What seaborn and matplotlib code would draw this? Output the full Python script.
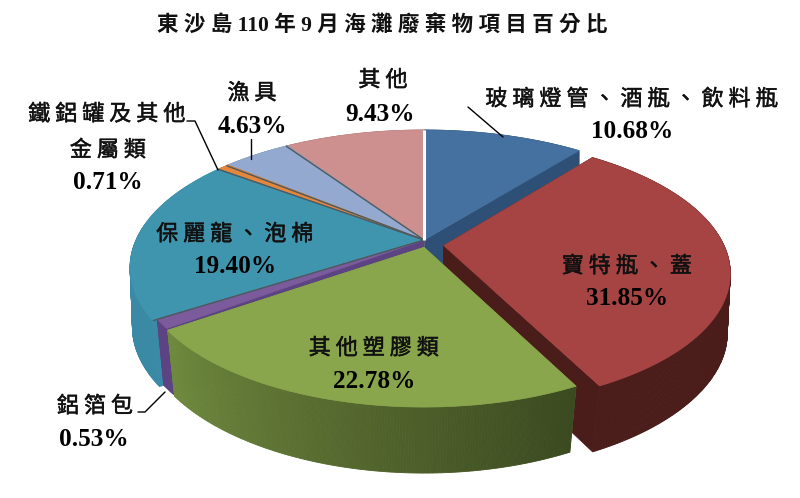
#!/usr/bin/env python3
# coding=utf-8
from matplotlib import pyplot as plt
from matplotlib.patches import Polygon
from matplotlib import patheffects
import seaborn as sns
import numpy as np

# hodnoty (po smeru hodin od 12 hodin)
categories = ["玻璃燈管、酒瓶、飲料瓶", "寶特瓶、蓋", "其他塑膠類", "鋁箔包",
              "保麗龍、泡棉", "鐵鋁罐及其他金屬類", "漁具", "其他"]
percents = [10.68, 31.85, 22.78, 0.53, 19.40, 0.71, 4.63, 9.43]
title = "東 沙 島 110 年 9 月 海 灘 廢 棄 物 項 目 百 分 比"

top_colors = ["#44719f", "#a54442", "#8aa64c", "#7b5b9c",
              "#4095ae", "#e5863a", "#93a9d0", "#ce8f8f"]
wall_colors = ["#2f5076", "#4a1c1a", "#6f8a3e", "#5c4382",
               "#3a8aa5", "#a8601f", "#6e80a0", "#99686a"]

CJK = ["Noto Sans CJK TC", "DejaVu Sans"]
LATIN = ["Liberation Serif", "DejaVu Serif"]

# stred a polomery pohledu na kolac
CX, CY = 424, 240
RX, RY = 288, 132
TILT = 0.2
DEPTH = 66


def project(x, y, depth=0.0):
    w = 1 - TILT * y
    # spodni hrana se smerem dopredu mirne zuzuje
    shrink = 1 - 0.045 * np.maximum(y, 0) if depth else 1.0
    return CX + RX * x / w * shrink, CY + RY * y / w + depth


def rim(start, end, radius=1.0, off=(0.0, 0.0)):
    t = np.radians(np.arange(start, end + 0.5, 0.5))
    return radius * np.sin(t) + off[0], -radius * np.cos(t) + off[1]


def draw_slice(ax, start, end, top, wall, radius=1.0, off=(0.0, 0.0), gradient=None):
    rx, ry = rim(start, end, radius, off)
    tx, ty = project(rx, ry)
    bx, by = project(rx, ry, DEPTH)
    ax0, ay0 = project(off[0], off[1])
    bx0, by0 = project(off[0], off[1], DEPTH)

    # rezy u stredu
    for i in (0, -1):
        ax.add_patch(Polygon([(ax0, ay0), (tx[i], ty[i]), (bx[i], by[i]), (bx0, by0)],
                             fc=wall, ec=wall, lw=0.4))
    # vnejsi stena po kouskach, aby nevznikl zub na okraji
    if gradient is None:
        shades = [wall] * (len(tx) - 1)
    else:
        shades = sns.blend_palette(gradient, len(tx) - 1)
    for i, shade in enumerate(shades):
        ax.add_patch(Polygon([(tx[i], ty[i]), (tx[i + 1], ty[i + 1]),
                              (bx[i + 1], by[i + 1]), (bx[i], by[i])],
                             fc=shade, ec=shade, lw=0.6))
    # vrchni plocha
    outline = np.r_[[[ax0, ay0]], np.c_[tx, ty]]
    ax.add_patch(Polygon(outline, fc=top, ec=top, lw=0.5))


sns.set_theme(style="white")
fig, ax = plt.subplots(figsize=(8.0, 4.98), dpi=100)
fig.subplots_adjust(0, 0, 1, 1)
ax.set_xlim(0, 800)
ax.set_ylim(498, 0)
ax.axis("off")

shares = np.array(percents) / np.sum(percents) * 360
ends = np.cumsum(shares)
starts = ends - shares

# zezadu dopredu, zelena prekryva rez cerveneho dilku
order = [0, 1, 7, 6, 5, 4, 3, 2]
for i in order:
    kwargs = {}
    start = starts[i]
    if i == 1:
        kwargs = {"radius": 0.965, "off": (0.068, 0.042)}
    if i == 2:
        kwargs = {"radius": 0.955, "off": (0.0, 0.055),
                  "gradient": ["#3b4a20", "#55682e", "#6f8a3e"]}
    if i == 3:
        # fialova vyplni mezeru pod posunutym zelenym dilkem
        kwargs = {"radius": 0.985}
        start = start - 2
    draw_slice(ax, start, ends[i], top_colors[i], wall_colors[i], **kwargs)

# tmave cary mezi dilky vlevo nahore
for angle in ends[3:7]:
    ex, ey = project(np.sin(np.radians(angle)), -np.cos(np.radians(angle)))
    ax.plot([CX, ex], [CY, ey], color="#4d5a60", lw=1.0, solid_capstyle="butt")

# bila mezera mezi ruzovym a modrym dilkem
sep_x, sep_y = project(np.sin(np.radians(starts[0])), -np.cos(np.radians(starts[0])))
ax.plot([CX, sep_x], [CY, sep_y], color="white", lw=2.2, solid_capstyle="butt")

# odkazove cary
leaders = [([468, 503], [107, 137]),
           ([251, 251], [139, 159]),
           ([187, 195, 218], [121, 121, 170]),
           ([138, 145, 165], [412, 412, 392])]
for xs, ys in leaders:
    ax.plot(xs, ys, color="black", lw=1.0)

heavier = [patheffects.withStroke(linewidth=0.35, foreground="#111111")]


def label(x, y, text, size=15.9):
    ax.text(x, y + 1.5, " ".join(text), family=CJK, fontsize=size, ha="center", va="center",
            color="#111111", path_effects=heavier)


def pct(x, y, value):
    ax.text(x, y + 1.5, "{:.2f}%".format(value), family=LATIN, fontweight="bold", fontsize=18.2,
            ha="center", va="center", color="black")


ax.text(382, 25, title, family=LATIN + CJK[:1], fontsize=15.5, fontweight="bold",
        ha="center", va="center", color="#111111")

label(632, 98, categories[0])
pct(632, 130, percents[0])
label(627, 265, categories[1])
pct(627, 297, percents[1])
label(374, 347, categories[2])
pct(374, 380, percents[2])
label(95, 405, categories[3])
pct(94, 438, percents[3])
label(235, 233, categories[4])
pct(235, 265, percents[4])
label(107, 113, categories[5][:6])
label(108, 149, categories[5][6:])
pct(108, 181, percents[5])
label(252, 92, categories[6])
pct(252, 125, percents[6])
label(383, 79, categories[7])
pct(380, 113, percents[7])

plt.savefig("out.png", dpi=100)
